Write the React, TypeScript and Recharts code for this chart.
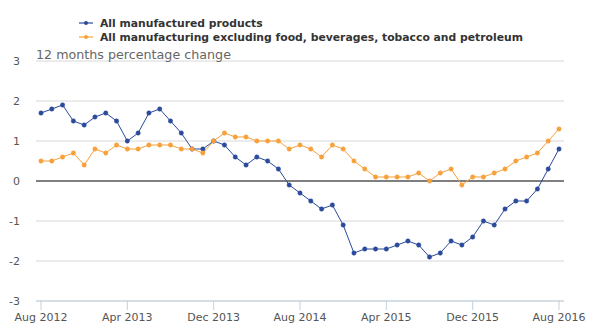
import { LineChart, Line, XAxis, YAxis, CartesianGrid, ReferenceLine } from "recharts";

const monthNames = ["Jan", "Feb", "Mar", "Apr", "May", "Jun", "Jul", "Aug", "Sep", "Oct", "Nov", "Dec"];

// Aug 2012 .. Aug 2016
const months: string[] = [];
for (let i = 0; i < 49; i++) {
  const m = (7 + i) % 12;
  const y = 2012 + Math.floor((7 + i) / 12);
  months.push(`${monthNames[m]} ${y}`);
}

const allManufactured = [
  1.7, 1.8, 1.9, 1.5, 1.4, 1.6, 1.7, 1.5, 1.0, 1.2, 1.7, 1.8, 1.5, 1.2, 0.8, 0.8,
  1.0, 0.9, 0.6, 0.4, 0.6, 0.5, 0.3, -0.1, -0.3, -0.5, -0.7, -0.6, -1.1, -1.8, -1.7, -1.7,
  -1.7, -1.6, -1.5, -1.6, -1.9, -1.8, -1.5, -1.6, -1.4, -1.0, -1.1, -0.7, -0.5, -0.5, -0.2, 0.3,
  0.8,
];

const excludingFood = [
  0.5, 0.5, 0.6, 0.7, 0.4, 0.8, 0.7, 0.9, 0.8, 0.8, 0.9, 0.9, 0.9, 0.8, 0.8, 0.7,
  1.0, 1.2, 1.1, 1.1, 1.0, 1.0, 1.0, 0.8, 0.9, 0.8, 0.6, 0.9, 0.8, 0.5, 0.3, 0.1,
  0.1, 0.1, 0.1, 0.2, 0.0, 0.2, 0.3, -0.1, 0.1, 0.1, 0.2, 0.3, 0.5, 0.6, 0.7, 1.0,
  1.3,
];

const yTicks = [-3, -2, -1, 0, 1, 2, 3];

const data = months.map((month, i) => ({
  month,
  all: allManufactured[i],
  excl: excludingFood[i],
}));

const BLUE = "#2b4a9b";
const ORANGE = "#f7a13a";
const FONT = "'DejaVu Sans', sans-serif";

const series = [
  { color: BLUE, label: "All manufactured products" },
  { color: ORANGE, label: "All manufacturing excluding food, beverages, tobacco and petroleum" },
];

function LegendBox() {
  return (
    <div
      style={{
        position: "absolute",
        left: 79,
        top: 16,
        fontFamily: FONT,
        fontWeight: "bold",
        fontSize: 10.8,
        color: "#333",
      }}
    >
      {series.map((s) => (
        <div key={s.label} style={{ display: "flex", alignItems: "center", height: 14 }}>
          <svg width={14} height={10} style={{ marginRight: 7 }}>
            <line x1={0} y1={5} x2={14} y2={5} stroke={s.color} strokeOpacity={0.6} strokeWidth={2} />
            <circle cx={7} cy={5} r={2} fill={s.color} />
          </svg>
          <span>{s.label}</span>
        </div>
      ))}
    </div>
  );
}

export default function App() {
  return (
    <div style={{ position: "absolute", left: 0, top: 0, width: 600, height: 336, background: "#fff" }}>
      <LineChart width={600} height={336} data={data} margin={{ top: 61, right: 36, bottom: 5, left: 0 }}>
        <CartesianGrid vertical={false} stroke="#d8d8d8" />
        <XAxis
          dataKey="month"
          interval={7}
          padding={{ left: 5, right: 5 }}
          height={30}
          stroke="#c0d0e0"
          tickSize={9}
          tick={{ fill: "#555", fontSize: 11, fontFamily: FONT }}
          tickMargin={3}
        />
        <YAxis
          domain={[-3, 3]}
          ticks={yTicks}
          width={36}
          axisLine={false}
          tickLine={false}
          tickMargin={10}
          tick={{ fill: "#555", fontSize: 11, fontFamily: FONT }}
        />
        <ReferenceLine y={0} stroke="#7f7f7f" strokeWidth={2} />
        <Line
          dataKey="all"
          stroke={BLUE}
          strokeWidth={1}
          dot={{ r: 2.2, fill: BLUE, stroke: BLUE, strokeWidth: 0.5 }}
          isAnimationActive={false}
        />
        <Line
          dataKey="excl"
          stroke={ORANGE}
          strokeWidth={1}
          dot={{ r: 2.2, fill: ORANGE, stroke: ORANGE, strokeWidth: 0.5 }}
          isAnimationActive={false}
        />
      </LineChart>
      <LegendBox />
      <div
        style={{
          position: "absolute",
          left: 36,
          top: 47,
          fontFamily: FONT,
          fontSize: 12.7,
          color: "#666",
        }}
      >
        12 months percentage change
      </div>
    </div>
  );
}
